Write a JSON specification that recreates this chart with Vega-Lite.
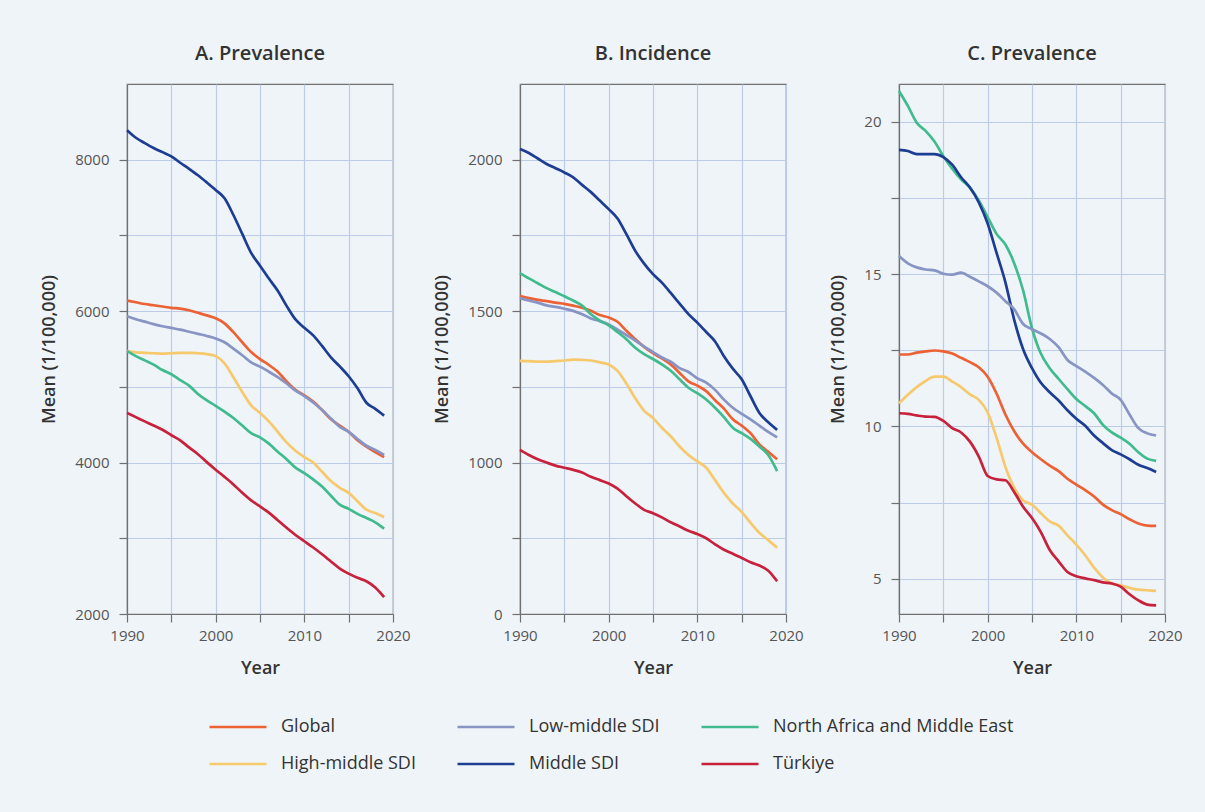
{
  "$schema": "https://vega.github.io/schema/vega-lite/v6.json",
  "background": "#eff4f9",
  "padding": {"left": 40, "top": 43, "right": 52, "bottom": 40},
  "datasets": {
    "prevA": [
      {"region": "Middle SDI", "year": 1990, "mean": 8390}, {"region": "Middle SDI", "year": 1991, "mean": 8290}, {"region": "Middle SDI", "year": 1992, "mean": 8220}, {"region": "Middle SDI", "year": 1993, "mean": 8155}, {"region": "Middle SDI", "year": 1994, "mean": 8100}, {"region": "Middle SDI", "year": 1995, "mean": 8044}, {"region": "Middle SDI", "year": 1996, "mean": 7960}, {"region": "Middle SDI", "year": 1997, "mean": 7880}, {"region": "Middle SDI", "year": 1998, "mean": 7795}, {"region": "Middle SDI", "year": 1999, "mean": 7700},
      {"region": "Middle SDI", "year": 2000, "mean": 7600}, {"region": "Middle SDI", "year": 2001, "mean": 7490}, {"region": "Middle SDI", "year": 2002, "mean": 7270}, {"region": "Middle SDI", "year": 2003, "mean": 7020}, {"region": "Middle SDI", "year": 2004, "mean": 6770}, {"region": "Middle SDI", "year": 2005, "mean": 6600}, {"region": "Middle SDI", "year": 2006, "mean": 6430}, {"region": "Middle SDI", "year": 2007, "mean": 6270}, {"region": "Middle SDI", "year": 2008, "mean": 6070}, {"region": "Middle SDI", "year": 2009, "mean": 5890},
      {"region": "Middle SDI", "year": 2010, "mean": 5780}, {"region": "Middle SDI", "year": 2011, "mean": 5680}, {"region": "Middle SDI", "year": 2012, "mean": 5540}, {"region": "Middle SDI", "year": 2013, "mean": 5390}, {"region": "Middle SDI", "year": 2014, "mean": 5270}, {"region": "Middle SDI", "year": 2015, "mean": 5140}, {"region": "Middle SDI", "year": 2016, "mean": 4980}, {"region": "Middle SDI", "year": 2017, "mean": 4790}, {"region": "Middle SDI", "year": 2018, "mean": 4710}, {"region": "Middle SDI", "year": 2019, "mean": 4620},
      {"region": "Global", "year": 1990, "mean": 6139}, {"region": "Global", "year": 1991, "mean": 6117}, {"region": "Global", "year": 1992, "mean": 6094}, {"region": "Global", "year": 1993, "mean": 6078}, {"region": "Global", "year": 1994, "mean": 6061}, {"region": "Global", "year": 1995, "mean": 6044}, {"region": "Global", "year": 1996, "mean": 6033}, {"region": "Global", "year": 1997, "mean": 6011}, {"region": "Global", "year": 1998, "mean": 5978}, {"region": "Global", "year": 1999, "mean": 5944},
      {"region": "Global", "year": 2000, "mean": 5906}, {"region": "Global", "year": 2001, "mean": 5839}, {"region": "Global", "year": 2002, "mean": 5722}, {"region": "Global", "year": 2003, "mean": 5589}, {"region": "Global", "year": 2004, "mean": 5461}, {"region": "Global", "year": 2005, "mean": 5367}, {"region": "Global", "year": 2006, "mean": 5289}, {"region": "Global", "year": 2007, "mean": 5200}, {"region": "Global", "year": 2008, "mean": 5072}, {"region": "Global", "year": 2009, "mean": 4961},
      {"region": "Global", "year": 2010, "mean": 4889}, {"region": "Global", "year": 2011, "mean": 4806}, {"region": "Global", "year": 2012, "mean": 4694}, {"region": "Global", "year": 2013, "mean": 4572}, {"region": "Global", "year": 2014, "mean": 4489}, {"region": "Global", "year": 2015, "mean": 4406}, {"region": "Global", "year": 2016, "mean": 4294}, {"region": "Global", "year": 2017, "mean": 4211}, {"region": "Global", "year": 2018, "mean": 4139}, {"region": "Global", "year": 2019, "mean": 4072},
      {"region": "Low-middle SDI", "year": 1990, "mean": 5933}, {"region": "Low-middle SDI", "year": 1991, "mean": 5894}, {"region": "Low-middle SDI", "year": 1992, "mean": 5861}, {"region": "Low-middle SDI", "year": 1993, "mean": 5828}, {"region": "Low-middle SDI", "year": 1994, "mean": 5800}, {"region": "Low-middle SDI", "year": 1995, "mean": 5778}, {"region": "Low-middle SDI", "year": 1996, "mean": 5756}, {"region": "Low-middle SDI", "year": 1997, "mean": 5728}, {"region": "Low-middle SDI", "year": 1998, "mean": 5700}, {"region": "Low-middle SDI", "year": 1999, "mean": 5672},
      {"region": "Low-middle SDI", "year": 2000, "mean": 5639}, {"region": "Low-middle SDI", "year": 2001, "mean": 5589}, {"region": "Low-middle SDI", "year": 2002, "mean": 5506}, {"region": "Low-middle SDI", "year": 2003, "mean": 5417}, {"region": "Low-middle SDI", "year": 2004, "mean": 5322}, {"region": "Low-middle SDI", "year": 2005, "mean": 5267}, {"region": "Low-middle SDI", "year": 2006, "mean": 5200}, {"region": "Low-middle SDI", "year": 2007, "mean": 5128}, {"region": "Low-middle SDI", "year": 2008, "mean": 5044}, {"region": "Low-middle SDI", "year": 2009, "mean": 4950},
      {"region": "Low-middle SDI", "year": 2010, "mean": 4878}, {"region": "Low-middle SDI", "year": 2011, "mean": 4794}, {"region": "Low-middle SDI", "year": 2012, "mean": 4694}, {"region": "Low-middle SDI", "year": 2013, "mean": 4583}, {"region": "Low-middle SDI", "year": 2014, "mean": 4472}, {"region": "Low-middle SDI", "year": 2015, "mean": 4406}, {"region": "Low-middle SDI", "year": 2016, "mean": 4311}, {"region": "Low-middle SDI", "year": 2017, "mean": 4222}, {"region": "Low-middle SDI", "year": 2018, "mean": 4167}, {"region": "Low-middle SDI", "year": 2019, "mean": 4100},
      {"region": "High-middle SDI", "year": 1990, "mean": 5472}, {"region": "High-middle SDI", "year": 1991, "mean": 5456}, {"region": "High-middle SDI", "year": 1992, "mean": 5450}, {"region": "High-middle SDI", "year": 1993, "mean": 5444}, {"region": "High-middle SDI", "year": 1994, "mean": 5439}, {"region": "High-middle SDI", "year": 1995, "mean": 5444}, {"region": "High-middle SDI", "year": 1996, "mean": 5450}, {"region": "High-middle SDI", "year": 1997, "mean": 5450}, {"region": "High-middle SDI", "year": 1998, "mean": 5444}, {"region": "High-middle SDI", "year": 1999, "mean": 5433},
      {"region": "High-middle SDI", "year": 2000, "mean": 5406}, {"region": "High-middle SDI", "year": 2001, "mean": 5311}, {"region": "High-middle SDI", "year": 2002, "mean": 5128}, {"region": "High-middle SDI", "year": 2003, "mean": 4933}, {"region": "High-middle SDI", "year": 2004, "mean": 4756}, {"region": "High-middle SDI", "year": 2005, "mean": 4656}, {"region": "High-middle SDI", "year": 2006, "mean": 4544}, {"region": "High-middle SDI", "year": 2007, "mean": 4406}, {"region": "High-middle SDI", "year": 2008, "mean": 4267}, {"region": "High-middle SDI", "year": 2009, "mean": 4156},
      {"region": "High-middle SDI", "year": 2010, "mean": 4072}, {"region": "High-middle SDI", "year": 2011, "mean": 4000}, {"region": "High-middle SDI", "year": 2012, "mean": 3878}, {"region": "High-middle SDI", "year": 2013, "mean": 3756}, {"region": "High-middle SDI", "year": 2014, "mean": 3667}, {"region": "High-middle SDI", "year": 2015, "mean": 3600}, {"region": "High-middle SDI", "year": 2016, "mean": 3489}, {"region": "High-middle SDI", "year": 2017, "mean": 3378}, {"region": "High-middle SDI", "year": 2018, "mean": 3333}, {"region": "High-middle SDI", "year": 2019, "mean": 3278},
      {"region": "North Africa and Middle East", "year": 1990, "mean": 5472}, {"region": "North Africa and Middle East", "year": 1991, "mean": 5406}, {"region": "North Africa and Middle East", "year": 1992, "mean": 5350}, {"region": "North Africa and Middle East", "year": 1993, "mean": 5294}, {"region": "North Africa and Middle East", "year": 1994, "mean": 5222}, {"region": "North Africa and Middle East", "year": 1995, "mean": 5167}, {"region": "North Africa and Middle East", "year": 1996, "mean": 5089}, {"region": "North Africa and Middle East", "year": 1997, "mean": 5017}, {"region": "North Africa and Middle East", "year": 1998, "mean": 4906}, {"region": "North Africa and Middle East", "year": 1999, "mean": 4822},
      {"region": "North Africa and Middle East", "year": 2000, "mean": 4750}, {"region": "North Africa and Middle East", "year": 2001, "mean": 4672}, {"region": "North Africa and Middle East", "year": 2002, "mean": 4589}, {"region": "North Africa and Middle East", "year": 2003, "mean": 4489}, {"region": "North Africa and Middle East", "year": 2004, "mean": 4389}, {"region": "North Africa and Middle East", "year": 2005, "mean": 4333}, {"region": "North Africa and Middle East", "year": 2006, "mean": 4250}, {"region": "North Africa and Middle East", "year": 2007, "mean": 4144}, {"region": "North Africa and Middle East", "year": 2008, "mean": 4044}, {"region": "North Africa and Middle East", "year": 2009, "mean": 3933},
      {"region": "North Africa and Middle East", "year": 2010, "mean": 3861}, {"region": "North Africa and Middle East", "year": 2011, "mean": 3778}, {"region": "North Africa and Middle East", "year": 2012, "mean": 3683}, {"region": "North Africa and Middle East", "year": 2013, "mean": 3561}, {"region": "North Africa and Middle East", "year": 2014, "mean": 3444}, {"region": "North Africa and Middle East", "year": 2015, "mean": 3389}, {"region": "North Africa and Middle East", "year": 2016, "mean": 3322}, {"region": "North Africa and Middle East", "year": 2017, "mean": 3267}, {"region": "North Africa and Middle East", "year": 2018, "mean": 3211}, {"region": "North Africa and Middle East", "year": 2019, "mean": 3128},
      {"region": "Türkiye", "year": 1990, "mean": 4656}, {"region": "Türkiye", "year": 1991, "mean": 4600}, {"region": "Türkiye", "year": 1992, "mean": 4544}, {"region": "Türkiye", "year": 1993, "mean": 4489}, {"region": "Türkiye", "year": 1994, "mean": 4433}, {"region": "Türkiye", "year": 1995, "mean": 4361}, {"region": "Türkiye", "year": 1996, "mean": 4294}, {"region": "Türkiye", "year": 1997, "mean": 4200}, {"region": "Türkiye", "year": 1998, "mean": 4111}, {"region": "Türkiye", "year": 1999, "mean": 4006},
      {"region": "Türkiye", "year": 2000, "mean": 3906}, {"region": "Türkiye", "year": 2001, "mean": 3811}, {"region": "Türkiye", "year": 2002, "mean": 3711}, {"region": "Türkiye", "year": 2003, "mean": 3600}, {"region": "Türkiye", "year": 2004, "mean": 3500}, {"region": "Türkiye", "year": 2005, "mean": 3422}, {"region": "Türkiye", "year": 2006, "mean": 3339}, {"region": "Türkiye", "year": 2007, "mean": 3239}, {"region": "Türkiye", "year": 2008, "mean": 3139}, {"region": "Türkiye", "year": 2009, "mean": 3044},
      {"region": "Türkiye", "year": 2010, "mean": 2961}, {"region": "Türkiye", "year": 2011, "mean": 2878}, {"region": "Türkiye", "year": 2012, "mean": 2789}, {"region": "Türkiye", "year": 2013, "mean": 2694}, {"region": "Türkiye", "year": 2014, "mean": 2600}, {"region": "Türkiye", "year": 2015, "mean": 2533}, {"region": "Türkiye", "year": 2016, "mean": 2478}, {"region": "Türkiye", "year": 2017, "mean": 2433}, {"region": "Türkiye", "year": 2018, "mean": 2350}, {"region": "Türkiye", "year": 2019, "mean": 2222}
    ],
    "incB": [
      {"region": "Middle SDI", "year": 1990, "mean": 2035}, {"region": "Middle SDI", "year": 1991, "mean": 2022}, {"region": "Middle SDI", "year": 1992, "mean": 2004}, {"region": "Middle SDI", "year": 1993, "mean": 1986}, {"region": "Middle SDI", "year": 1994, "mean": 1972}, {"region": "Middle SDI", "year": 1995, "mean": 1958}, {"region": "Middle SDI", "year": 1996, "mean": 1942}, {"region": "Middle SDI", "year": 1997, "mean": 1917}, {"region": "Middle SDI", "year": 1998, "mean": 1893}, {"region": "Middle SDI", "year": 1999, "mean": 1865},
      {"region": "Middle SDI", "year": 2000, "mean": 1837}, {"region": "Middle SDI", "year": 2001, "mean": 1806}, {"region": "Middle SDI", "year": 2002, "mean": 1754}, {"region": "Middle SDI", "year": 2003, "mean": 1699}, {"region": "Middle SDI", "year": 2004, "mean": 1657}, {"region": "Middle SDI", "year": 2005, "mean": 1622}, {"region": "Middle SDI", "year": 2006, "mean": 1594}, {"region": "Middle SDI", "year": 2007, "mean": 1560}, {"region": "Middle SDI", "year": 2008, "mean": 1525}, {"region": "Middle SDI", "year": 2009, "mean": 1490},
      {"region": "Middle SDI", "year": 2010, "mean": 1462}, {"region": "Middle SDI", "year": 2011, "mean": 1431}, {"region": "Middle SDI", "year": 2012, "mean": 1400}, {"region": "Middle SDI", "year": 2013, "mean": 1351}, {"region": "Middle SDI", "year": 2014, "mean": 1310}, {"region": "Middle SDI", "year": 2015, "mean": 1275}, {"region": "Middle SDI", "year": 2016, "mean": 1219}, {"region": "Middle SDI", "year": 2017, "mean": 1164}, {"region": "Middle SDI", "year": 2018, "mean": 1133}, {"region": "Middle SDI", "year": 2019, "mean": 1108},
      {"region": "Global", "year": 1990, "mean": 1550}, {"region": "Global", "year": 1991, "mean": 1543}, {"region": "Global", "year": 1992, "mean": 1537}, {"region": "Global", "year": 1993, "mean": 1533}, {"region": "Global", "year": 1994, "mean": 1528}, {"region": "Global", "year": 1995, "mean": 1524}, {"region": "Global", "year": 1996, "mean": 1518}, {"region": "Global", "year": 1997, "mean": 1511}, {"region": "Global", "year": 1998, "mean": 1501}, {"region": "Global", "year": 1999, "mean": 1487},
      {"region": "Global", "year": 2000, "mean": 1479}, {"region": "Global", "year": 2001, "mean": 1465}, {"region": "Global", "year": 2002, "mean": 1435}, {"region": "Global", "year": 2003, "mean": 1407}, {"region": "Global", "year": 2004, "mean": 1382}, {"region": "Global", "year": 2005, "mean": 1361}, {"region": "Global", "year": 2006, "mean": 1344}, {"region": "Global", "year": 2007, "mean": 1324}, {"region": "Global", "year": 2008, "mean": 1296}, {"region": "Global", "year": 2009, "mean": 1268},
      {"region": "Global", "year": 2010, "mean": 1254}, {"region": "Global", "year": 2011, "mean": 1236}, {"region": "Global", "year": 2012, "mean": 1206}, {"region": "Global", "year": 2013, "mean": 1178}, {"region": "Global", "year": 2014, "mean": 1143}, {"region": "Global", "year": 2015, "mean": 1122}, {"region": "Global", "year": 2016, "mean": 1097}, {"region": "Global", "year": 2017, "mean": 1060}, {"region": "Global", "year": 2018, "mean": 1036}, {"region": "Global", "year": 2019, "mean": 1011},
      {"region": "Low-middle SDI", "year": 1990, "mean": 1543}, {"region": "Low-middle SDI", "year": 1991, "mean": 1535}, {"region": "Low-middle SDI", "year": 1992, "mean": 1528}, {"region": "Low-middle SDI", "year": 1993, "mean": 1519}, {"region": "Low-middle SDI", "year": 1994, "mean": 1514}, {"region": "Low-middle SDI", "year": 1995, "mean": 1508}, {"region": "Low-middle SDI", "year": 1996, "mean": 1501}, {"region": "Low-middle SDI", "year": 1997, "mean": 1490}, {"region": "Low-middle SDI", "year": 1998, "mean": 1476}, {"region": "Low-middle SDI", "year": 1999, "mean": 1467},
      {"region": "Low-middle SDI", "year": 2000, "mean": 1456}, {"region": "Low-middle SDI", "year": 2001, "mean": 1439}, {"region": "Low-middle SDI", "year": 2002, "mean": 1421}, {"region": "Low-middle SDI", "year": 2003, "mean": 1403}, {"region": "Low-middle SDI", "year": 2004, "mean": 1383}, {"region": "Low-middle SDI", "year": 2005, "mean": 1365}, {"region": "Low-middle SDI", "year": 2006, "mean": 1347}, {"region": "Low-middle SDI", "year": 2007, "mean": 1333}, {"region": "Low-middle SDI", "year": 2008, "mean": 1312}, {"region": "Low-middle SDI", "year": 2009, "mean": 1299},
      {"region": "Low-middle SDI", "year": 2010, "mean": 1278}, {"region": "Low-middle SDI", "year": 2011, "mean": 1264}, {"region": "Low-middle SDI", "year": 2012, "mean": 1240}, {"region": "Low-middle SDI", "year": 2013, "mean": 1208}, {"region": "Low-middle SDI", "year": 2014, "mean": 1181}, {"region": "Low-middle SDI", "year": 2015, "mean": 1161}, {"region": "Low-middle SDI", "year": 2016, "mean": 1143}, {"region": "Low-middle SDI", "year": 2017, "mean": 1122}, {"region": "Low-middle SDI", "year": 2018, "mean": 1101}, {"region": "Low-middle SDI", "year": 2019, "mean": 1083},
      {"region": "North Africa and Middle East", "year": 1990, "mean": 1625}, {"region": "North Africa and Middle East", "year": 1991, "mean": 1608}, {"region": "North Africa and Middle East", "year": 1992, "mean": 1592}, {"region": "North Africa and Middle East", "year": 1993, "mean": 1576}, {"region": "North Africa and Middle East", "year": 1994, "mean": 1563}, {"region": "North Africa and Middle East", "year": 1995, "mean": 1549}, {"region": "North Africa and Middle East", "year": 1996, "mean": 1535}, {"region": "North Africa and Middle East", "year": 1997, "mean": 1518}, {"region": "North Africa and Middle East", "year": 1998, "mean": 1490}, {"region": "North Africa and Middle East", "year": 1999, "mean": 1469},
      {"region": "North Africa and Middle East", "year": 2000, "mean": 1453}, {"region": "North Africa and Middle East", "year": 2001, "mean": 1431}, {"region": "North Africa and Middle East", "year": 2002, "mean": 1407}, {"region": "North Africa and Middle East", "year": 2003, "mean": 1379}, {"region": "North Africa and Middle East", "year": 2004, "mean": 1358}, {"region": "North Africa and Middle East", "year": 2005, "mean": 1342}, {"region": "North Africa and Middle East", "year": 2006, "mean": 1324}, {"region": "North Africa and Middle East", "year": 2007, "mean": 1303}, {"region": "North Africa and Middle East", "year": 2008, "mean": 1275}, {"region": "North Africa and Middle East", "year": 2009, "mean": 1247},
      {"region": "North Africa and Middle East", "year": 2010, "mean": 1229}, {"region": "North Africa and Middle East", "year": 2011, "mean": 1208}, {"region": "North Africa and Middle East", "year": 2012, "mean": 1181}, {"region": "North Africa and Middle East", "year": 2013, "mean": 1150}, {"region": "North Africa and Middle East", "year": 2014, "mean": 1115}, {"region": "North Africa and Middle East", "year": 2015, "mean": 1097}, {"region": "North Africa and Middle East", "year": 2016, "mean": 1078}, {"region": "North Africa and Middle East", "year": 2017, "mean": 1053}, {"region": "North Africa and Middle East", "year": 2018, "mean": 1025}, {"region": "North Africa and Middle East", "year": 2019, "mean": 972},
      {"region": "High-middle SDI", "year": 1990, "mean": 1336}, {"region": "High-middle SDI", "year": 1991, "mean": 1335}, {"region": "High-middle SDI", "year": 1992, "mean": 1333}, {"region": "High-middle SDI", "year": 1993, "mean": 1333}, {"region": "High-middle SDI", "year": 1994, "mean": 1335}, {"region": "High-middle SDI", "year": 1995, "mean": 1337}, {"region": "High-middle SDI", "year": 1996, "mean": 1340}, {"region": "High-middle SDI", "year": 1997, "mean": 1339}, {"region": "High-middle SDI", "year": 1998, "mean": 1337}, {"region": "High-middle SDI", "year": 1999, "mean": 1331},
      {"region": "High-middle SDI", "year": 2000, "mean": 1324}, {"region": "High-middle SDI", "year": 2001, "mean": 1303}, {"region": "High-middle SDI", "year": 2002, "mean": 1261}, {"region": "High-middle SDI", "year": 2003, "mean": 1212}, {"region": "High-middle SDI", "year": 2004, "mean": 1171}, {"region": "High-middle SDI", "year": 2005, "mean": 1147}, {"region": "High-middle SDI", "year": 2006, "mean": 1115}, {"region": "High-middle SDI", "year": 2007, "mean": 1087}, {"region": "High-middle SDI", "year": 2008, "mean": 1053}, {"region": "High-middle SDI", "year": 2009, "mean": 1025},
      {"region": "High-middle SDI", "year": 2010, "mean": 1004}, {"region": "High-middle SDI", "year": 2011, "mean": 983}, {"region": "High-middle SDI", "year": 2012, "mean": 942}, {"region": "High-middle SDI", "year": 2013, "mean": 900}, {"region": "High-middle SDI", "year": 2014, "mean": 865}, {"region": "High-middle SDI", "year": 2015, "mean": 837}, {"region": "High-middle SDI", "year": 2016, "mean": 801}, {"region": "High-middle SDI", "year": 2017, "mean": 768}, {"region": "High-middle SDI", "year": 2018, "mean": 744}, {"region": "High-middle SDI", "year": 2019, "mean": 719},
      {"region": "Türkiye", "year": 1990, "mean": 1042}, {"region": "Türkiye", "year": 1991, "mean": 1025}, {"region": "Türkiye", "year": 1992, "mean": 1011}, {"region": "Türkiye", "year": 1993, "mean": 1000}, {"region": "Türkiye", "year": 1994, "mean": 990}, {"region": "Türkiye", "year": 1995, "mean": 983}, {"region": "Türkiye", "year": 1996, "mean": 976}, {"region": "Türkiye", "year": 1997, "mean": 967}, {"region": "Türkiye", "year": 1998, "mean": 953}, {"region": "Türkiye", "year": 1999, "mean": 942},
      {"region": "Türkiye", "year": 2000, "mean": 931}, {"region": "Türkiye", "year": 2001, "mean": 914}, {"region": "Türkiye", "year": 2002, "mean": 889}, {"region": "Türkiye", "year": 2003, "mean": 865}, {"region": "Türkiye", "year": 2004, "mean": 844}, {"region": "Türkiye", "year": 2005, "mean": 833}, {"region": "Türkiye", "year": 2006, "mean": 819}, {"region": "Türkiye", "year": 2007, "mean": 803}, {"region": "Türkiye", "year": 2008, "mean": 789}, {"region": "Türkiye", "year": 2009, "mean": 775},
      {"region": "Türkiye", "year": 2010, "mean": 764}, {"region": "Türkiye", "year": 2011, "mean": 750}, {"region": "Türkiye", "year": 2012, "mean": 730}, {"region": "Türkiye", "year": 2013, "mean": 712}, {"region": "Türkiye", "year": 2014, "mean": 699}, {"region": "Türkiye", "year": 2015, "mean": 685}, {"region": "Türkiye", "year": 2016, "mean": 671}, {"region": "Türkiye", "year": 2017, "mean": 660}, {"region": "Türkiye", "year": 2018, "mean": 643}, {"region": "Türkiye", "year": 2019, "mean": 608}
    ],
    "prevC": [
      {"region": "North Africa and Middle East", "year": 1990, "mean": 21.01}, {"region": "North Africa and Middle East", "year": 1991, "mean": 20.52}, {"region": "North Africa and Middle East", "year": 1992, "mean": 19.97}, {"region": "North Africa and Middle East", "year": 1993, "mean": 19.7}, {"region": "North Africa and Middle East", "year": 1994, "mean": 19.35}, {"region": "North Africa and Middle East", "year": 1995, "mean": 18.87}, {"region": "North Africa and Middle East", "year": 1996, "mean": 18.46}, {"region": "North Africa and Middle East", "year": 1997, "mean": 18.11}, {"region": "North Africa and Middle East", "year": 1998, "mean": 17.84}, {"region": "North Africa and Middle East", "year": 1999, "mean": 17.42},
      {"region": "North Africa and Middle East", "year": 2000, "mean": 16.87}, {"region": "North Africa and Middle East", "year": 2001, "mean": 16.32}, {"region": "North Africa and Middle East", "year": 2002, "mean": 15.97}, {"region": "North Africa and Middle East", "year": 2003, "mean": 15.35}, {"region": "North Africa and Middle East", "year": 2004, "mean": 14.46}, {"region": "North Africa and Middle East", "year": 2005, "mean": 13.22}, {"region": "North Africa and Middle East", "year": 2006, "mean": 12.39}, {"region": "North Africa and Middle East", "year": 2007, "mean": 11.91}, {"region": "North Africa and Middle East", "year": 2008, "mean": 11.56}, {"region": "North Africa and Middle East", "year": 2009, "mean": 11.22},
      {"region": "North Africa and Middle East", "year": 2010, "mean": 10.9}, {"region": "North Africa and Middle East", "year": 2011, "mean": 10.67}, {"region": "North Africa and Middle East", "year": 2012, "mean": 10.43}, {"region": "North Africa and Middle East", "year": 2013, "mean": 10.05}, {"region": "North Africa and Middle East", "year": 2014, "mean": 9.8}, {"region": "North Africa and Middle East", "year": 2015, "mean": 9.63}, {"region": "North Africa and Middle East", "year": 2016, "mean": 9.43}, {"region": "North Africa and Middle East", "year": 2017, "mean": 9.15}, {"region": "North Africa and Middle East", "year": 2018, "mean": 8.94}, {"region": "North Africa and Middle East", "year": 2019, "mean": 8.87},
      {"region": "Middle SDI", "year": 1990, "mean": 19.08}, {"region": "Middle SDI", "year": 1991, "mean": 19.04}, {"region": "Middle SDI", "year": 1992, "mean": 18.94}, {"region": "Middle SDI", "year": 1993, "mean": 18.94}, {"region": "Middle SDI", "year": 1994, "mean": 18.94}, {"region": "Middle SDI", "year": 1995, "mean": 18.84}, {"region": "Middle SDI", "year": 1996, "mean": 18.59}, {"region": "Middle SDI", "year": 1997, "mean": 18.18}, {"region": "Middle SDI", "year": 1998, "mean": 17.84}, {"region": "Middle SDI", "year": 1999, "mean": 17.35},
      {"region": "Middle SDI", "year": 2000, "mean": 16.66}, {"region": "Middle SDI", "year": 2001, "mean": 15.7}, {"region": "Middle SDI", "year": 2002, "mean": 14.73}, {"region": "Middle SDI", "year": 2003, "mean": 13.49}, {"region": "Middle SDI", "year": 2004, "mean": 12.53}, {"region": "Middle SDI", "year": 2005, "mean": 11.91}, {"region": "Middle SDI", "year": 2006, "mean": 11.43}, {"region": "Middle SDI", "year": 2007, "mean": 11.12}, {"region": "Middle SDI", "year": 2008, "mean": 10.85}, {"region": "Middle SDI", "year": 2009, "mean": 10.53},
      {"region": "Middle SDI", "year": 2010, "mean": 10.25}, {"region": "Middle SDI", "year": 2011, "mean": 10.02}, {"region": "Middle SDI", "year": 2012, "mean": 9.7}, {"region": "Middle SDI", "year": 2013, "mean": 9.45}, {"region": "Middle SDI", "year": 2014, "mean": 9.22}, {"region": "Middle SDI", "year": 2015, "mean": 9.08}, {"region": "Middle SDI", "year": 2016, "mean": 8.92}, {"region": "Middle SDI", "year": 2017, "mean": 8.74}, {"region": "Middle SDI", "year": 2018, "mean": 8.63}, {"region": "Middle SDI", "year": 2019, "mean": 8.5},
      {"region": "Low-middle SDI", "year": 1990, "mean": 15.59}, {"region": "Low-middle SDI", "year": 1991, "mean": 15.35}, {"region": "Low-middle SDI", "year": 1992, "mean": 15.22}, {"region": "Low-middle SDI", "year": 1993, "mean": 15.15}, {"region": "Low-middle SDI", "year": 1994, "mean": 15.12}, {"region": "Low-middle SDI", "year": 1995, "mean": 15.01}, {"region": "Low-middle SDI", "year": 1996, "mean": 14.98}, {"region": "Low-middle SDI", "year": 1997, "mean": 15.05}, {"region": "Low-middle SDI", "year": 1998, "mean": 14.91}, {"region": "Low-middle SDI", "year": 1999, "mean": 14.76},
      {"region": "Low-middle SDI", "year": 2000, "mean": 14.6}, {"region": "Low-middle SDI", "year": 2001, "mean": 14.39}, {"region": "Low-middle SDI", "year": 2002, "mean": 14.11}, {"region": "Low-middle SDI", "year": 2003, "mean": 13.84}, {"region": "Low-middle SDI", "year": 2004, "mean": 13.36}, {"region": "Low-middle SDI", "year": 2005, "mean": 13.19}, {"region": "Low-middle SDI", "year": 2006, "mean": 13.05}, {"region": "Low-middle SDI", "year": 2007, "mean": 12.87}, {"region": "Low-middle SDI", "year": 2008, "mean": 12.6}, {"region": "Low-middle SDI", "year": 2009, "mean": 12.18},
      {"region": "Low-middle SDI", "year": 2010, "mean": 11.98}, {"region": "Low-middle SDI", "year": 2011, "mean": 11.8}, {"region": "Low-middle SDI", "year": 2012, "mean": 11.59}, {"region": "Low-middle SDI", "year": 2013, "mean": 11.36}, {"region": "Low-middle SDI", "year": 2014, "mean": 11.08}, {"region": "Low-middle SDI", "year": 2015, "mean": 10.87}, {"region": "Low-middle SDI", "year": 2016, "mean": 10.39}, {"region": "Low-middle SDI", "year": 2017, "mean": 9.94}, {"region": "Low-middle SDI", "year": 2018, "mean": 9.77}, {"region": "Low-middle SDI", "year": 2019, "mean": 9.7},
      {"region": "Global", "year": 1990, "mean": 12.36}, {"region": "Global", "year": 1991, "mean": 12.36}, {"region": "Global", "year": 1992, "mean": 12.42}, {"region": "Global", "year": 1993, "mean": 12.46}, {"region": "Global", "year": 1994, "mean": 12.49}, {"region": "Global", "year": 1995, "mean": 12.46}, {"region": "Global", "year": 1996, "mean": 12.39}, {"region": "Global", "year": 1997, "mean": 12.25}, {"region": "Global", "year": 1998, "mean": 12.11}, {"region": "Global", "year": 1999, "mean": 11.94},
      {"region": "Global", "year": 2000, "mean": 11.63}, {"region": "Global", "year": 2001, "mean": 11.08}, {"region": "Global", "year": 2002, "mean": 10.39}, {"region": "Global", "year": 2003, "mean": 9.84}, {"region": "Global", "year": 2004, "mean": 9.43}, {"region": "Global", "year": 2005, "mean": 9.15}, {"region": "Global", "year": 2006, "mean": 8.92}, {"region": "Global", "year": 2007, "mean": 8.71}, {"region": "Global", "year": 2008, "mean": 8.53}, {"region": "Global", "year": 2009, "mean": 8.28},
      {"region": "Global", "year": 2010, "mean": 8.09}, {"region": "Global", "year": 2011, "mean": 7.91}, {"region": "Global", "year": 2012, "mean": 7.7}, {"region": "Global", "year": 2013, "mean": 7.43}, {"region": "Global", "year": 2014, "mean": 7.25}, {"region": "Global", "year": 2015, "mean": 7.12}, {"region": "Global", "year": 2016, "mean": 6.95}, {"region": "Global", "year": 2017, "mean": 6.81}, {"region": "Global", "year": 2018, "mean": 6.74}, {"region": "Global", "year": 2019, "mean": 6.73},
      {"region": "High-middle SDI", "year": 1990, "mean": 10.76}, {"region": "High-middle SDI", "year": 1991, "mean": 11.04}, {"region": "High-middle SDI", "year": 1992, "mean": 11.29}, {"region": "High-middle SDI", "year": 1993, "mean": 11.49}, {"region": "High-middle SDI", "year": 1994, "mean": 11.63}, {"region": "High-middle SDI", "year": 1995, "mean": 11.63}, {"region": "High-middle SDI", "year": 1996, "mean": 11.47}, {"region": "High-middle SDI", "year": 1997, "mean": 11.29}, {"region": "High-middle SDI", "year": 1998, "mean": 11.05}, {"region": "High-middle SDI", "year": 1999, "mean": 10.87},
      {"region": "High-middle SDI", "year": 2000, "mean": 10.46}, {"region": "High-middle SDI", "year": 2001, "mean": 9.63}, {"region": "High-middle SDI", "year": 2002, "mean": 8.67}, {"region": "High-middle SDI", "year": 2003, "mean": 7.98}, {"region": "High-middle SDI", "year": 2004, "mean": 7.57}, {"region": "High-middle SDI", "year": 2005, "mean": 7.43}, {"region": "High-middle SDI", "year": 2006, "mean": 7.15}, {"region": "High-middle SDI", "year": 2007, "mean": 6.88}, {"region": "High-middle SDI", "year": 2008, "mean": 6.74}, {"region": "High-middle SDI", "year": 2009, "mean": 6.42},
      {"region": "High-middle SDI", "year": 2010, "mean": 6.12}, {"region": "High-middle SDI", "year": 2011, "mean": 5.77}, {"region": "High-middle SDI", "year": 2012, "mean": 5.36}, {"region": "High-middle SDI", "year": 2013, "mean": 5.04}, {"region": "High-middle SDI", "year": 2014, "mean": 4.84}, {"region": "High-middle SDI", "year": 2015, "mean": 4.78}, {"region": "High-middle SDI", "year": 2016, "mean": 4.7}, {"region": "High-middle SDI", "year": 2017, "mean": 4.64}, {"region": "High-middle SDI", "year": 2018, "mean": 4.62}, {"region": "High-middle SDI", "year": 2019, "mean": 4.6},
      {"region": "Türkiye", "year": 1990, "mean": 10.43}, {"region": "Türkiye", "year": 1991, "mean": 10.41}, {"region": "Türkiye", "year": 1992, "mean": 10.36}, {"region": "Türkiye", "year": 1993, "mean": 10.32}, {"region": "Türkiye", "year": 1994, "mean": 10.31}, {"region": "Türkiye", "year": 1995, "mean": 10.18}, {"region": "Türkiye", "year": 1996, "mean": 9.94}, {"region": "Türkiye", "year": 1997, "mean": 9.8}, {"region": "Türkiye", "year": 1998, "mean": 9.5}, {"region": "Türkiye", "year": 1999, "mean": 9.01},
      {"region": "Türkiye", "year": 2000, "mean": 8.37}, {"region": "Türkiye", "year": 2001, "mean": 8.26}, {"region": "Türkiye", "year": 2002, "mean": 8.23}, {"region": "Türkiye", "year": 2003, "mean": 7.84}, {"region": "Türkiye", "year": 2004, "mean": 7.36}, {"region": "Türkiye", "year": 2005, "mean": 6.99}, {"region": "Türkiye", "year": 2006, "mean": 6.53}, {"region": "Türkiye", "year": 2007, "mean": 5.94}, {"region": "Türkiye", "year": 2008, "mean": 5.57}, {"region": "Türkiye", "year": 2009, "mean": 5.22},
      {"region": "Türkiye", "year": 2010, "mean": 5.08}, {"region": "Türkiye", "year": 2011, "mean": 5.01}, {"region": "Türkiye", "year": 2012, "mean": 4.95}, {"region": "Türkiye", "year": 2013, "mean": 4.88}, {"region": "Türkiye", "year": 2014, "mean": 4.84}, {"region": "Türkiye", "year": 2015, "mean": 4.74}, {"region": "Türkiye", "year": 2016, "mean": 4.49}, {"region": "Türkiye", "year": 2017, "mean": 4.29}, {"region": "Türkiye", "year": 2018, "mean": 4.15}, {"region": "Türkiye", "year": 2019, "mean": 4.12}
    ]
  },
  "spacing": 25,
  "hconcat": [
    {
      "spacing": 22,
      "hconcat": [
        {
          "title": "A. Prevalence",
          "width": 266,
          "height": 530,
          "data": {"name": "prevA"},
          "mark": "line",
          "encoding": {
            "x": {"field": "year", "type": "quantitative", "title": "Year",
              "scale": {"domain": [1990, 2020], "nice": false, "zero": false},
              "axis": {"values": [1990, 1995, 2000, 2005, 2010, 2015, 2020], "format": "d", "labelExpr": "datum.value % 10 == 0 ? datum.label : ''"}},
            "y": {"field": "mean", "type": "quantitative", "title": "Mean (1/100,000)",
              "scale": {"domain": [2000, 9000], "nice": false, "zero": false},
              "axis": {"values": [2000, 3000, 4000, 5000, 6000, 7000, 8000], "format": "d", "labelExpr": "datum.value % 2000 == 0 ? datum.label : ''"}},
            "color": {"field": "region", "type": "nominal",
              "scale": {"domain": ["Global", "Low-middle SDI", "North Africa and Middle East", "High-middle SDI", "Middle SDI", "Türkiye"], "range": ["#ec6234", "#8794c4", "#40bb8e", "#f6c96d", "#1d3d93", "#c8213b"]},
              "legend": {"title": null, "orient": "none", "legendX": 100, "legendY": 632, "columns": 3, "direction": "horizontal"}}
          }
        },
        {
          "title": "B. Incidence",
          "width": 266,
          "height": 530,
          "data": {"name": "incB"},
          "mark": "line",
          "encoding": {
            "x": {"field": "year", "type": "quantitative", "title": "Year",
              "scale": {"domain": [1990, 2020], "nice": false, "zero": false},
              "axis": {"values": [1990, 1995, 2000, 2005, 2010, 2015, 2020], "format": "d", "labelExpr": "datum.value % 10 == 0 ? datum.label : ''"}},
            "y": {"field": "mean", "type": "quantitative", "title": "Mean (1/100,000)",
              "scale": {"domain": [500, 2250], "nice": false, "zero": false},
              "axis": {"values": [500, 750, 1000, 1250, 1500, 1750, 2000], "format": "d", "labelExpr": "datum.value == 500 ? '0' : (datum.value % 500 == 0 ? datum.label : '')"}},
            "color": {"field": "region", "type": "nominal",
              "scale": {"domain": ["Global", "Low-middle SDI", "North Africa and Middle East", "High-middle SDI", "Middle SDI", "Türkiye"], "range": ["#ec6234", "#8794c4", "#40bb8e", "#f6c96d", "#1d3d93", "#c8213b"]},
              "legend": {"title": null, "orient": "none", "legendX": 100, "legendY": 632, "columns": 3, "direction": "horizontal"}}
          }
        }
      ]
    },
    {
      "title": "C. Prevalence",
      "width": 266,
      "height": 530,
      "data": {"name": "prevC"},
      "mark": "line",
      "encoding": {
        "x": {"field": "year", "type": "quantitative", "title": "Year",
          "scale": {"domain": [1990, 2020], "nice": false, "zero": false},
          "axis": {"values": [1990, 1995, 2000, 2005, 2010, 2015, 2020], "format": "d", "labelExpr": "datum.value % 10 == 0 ? datum.label : ''"}},
        "y": {"field": "mean", "type": "quantitative", "title": "Mean (1/100,000)",
          "scale": {"domain": [3.84, 21.24], "nice": false, "zero": false},
          "axis": {"values": [5, 7.5, 10, 12.5, 15, 17.5, 20], "labelExpr": "datum.value % 5 == 0 ? datum.label : ''"}},
        "color": {"field": "region", "type": "nominal",
          "scale": {"domain": ["Global", "Low-middle SDI", "North Africa and Middle East", "High-middle SDI", "Middle SDI", "Türkiye"], "range": ["#ec6234", "#8794c4", "#40bb8e", "#f6c96d", "#1d3d93", "#c8213b"]},
          "legend": {"title": null, "orient": "none", "legendX": 100, "legendY": 632, "columns": 3, "direction": "horizontal"}}
      }
    }
  ],
  "config": {
    "font": "Open Sans",
    "view": {"stroke": "#707070", "strokeWidth": 1.2},
    "line": {"strokeWidth": 2.7, "interpolate": "monotone"},
    "title": {"fontSize": 20, "fontWeight": 600, "color": "#333333", "offset": 20, "frame": "group", "anchor": "middle"},
    "axis": {
      "gridColor": "#bccbe6", "gridWidth": 1.2, "gridOpacity": 1,
      "domainColor": "#707070", "domainWidth": 1.2,
      "tickColor": "#707070", "tickSize": 8, "tickWidth": 1.2,
      "labelColor": "#555555", "labelFontSize": 15, "labelFlush": false, "labelOverlap": false, "labelPadding": 6,
      "titleColor": "#333333", "titleFontSize": 18, "titleFontWeight": 600
    },
    "axisX": {"titlePadding": 16},
    "axisY": {"titlePadding": 16, "labelPadding": 10},
    "legend": {
      "symbolType": "M-3,0H3", "symbolSize": 361, "symbolStrokeWidth": 3,
      "labelFontSize": 18, "labelColor": "#333333", "labelOffset": 32, "labelLimit": 400,
      "columnPadding": 36, "rowPadding": 17
    }
  }
}
